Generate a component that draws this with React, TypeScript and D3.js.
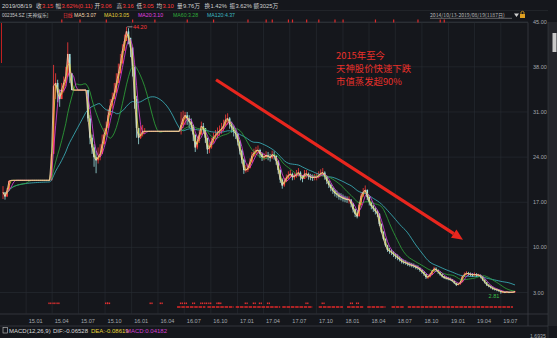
import React from 'react';
import * as d3 from 'd3';

// ---------- data ----------
const startDate = new Date(2014, 9, 13);
const endDate = new Date(2019, 7, 19);

// weekly closes (one value per calendar week starting 2014-10-13)
const closes = [
  18.5, 17.9, 18.8, 20.3, 20.4, 20.4, 20.4, 20.4, 20.4, 20.4,
  20.4, 20.4, 20.4, 20.4, 20.4, 20.4, 20.4, 20.4, 20.4, 20.4,
  20.4, 20.4, 20.4, 20.4, 24.5, 35.0, 35.5, 34.0, 33.0, 34.5,
  35.5, 36.5, 40.0, 37.0, 34.4, 34.4, 34.4, 34.4, 34.4, 34.4,
  34.4, 34.4, 30.0, 27.0, 25.5, 24.0, 23.5, 24.0, 24.5, 26.0,
  27.5, 28.5, 30.5, 32.0, 33.0, 34.0, 35.5, 37.0, 38.5, 40.5,
  42.0, 43.5, 42.5, 41.0, 38.0, 33.0, 28.5, 27.0, 27.5, 28.0,
  28.0, 28.0, 28.0, 28.0, 28.0, 28.0, 28.0, 28.0, 28.0, 28.0,
  28.0, 28.0, 28.0, 28.0, 28.0, 28.0, 28.0, 28.0, 29.0, 30.0,
  30.5, 30.0, 29.5, 29.0, 27.5, 25.5, 26.5, 27.5, 28.8, 28.5,
  27.0, 25.2, 25.5, 26.3, 27.1, 27.4, 27.8, 28.1, 28.4, 28.9,
  29.8, 30.0, 29.1, 28.6, 28.0, 27.6, 26.4, 25.0, 23.6, 22.0,
  22.0, 22.3, 23.2, 24.2, 24.7, 25.0, 25.1, 24.5, 24.0, 24.0,
  24.3, 24.1, 23.9, 24.4, 24.2, 23.4, 22.0, 20.5, 19.6, 20.2,
  20.8, 21.2, 21.4, 20.9, 21.0, 21.4, 21.6, 21.0, 20.6, 21.4,
  21.4, 21.0, 20.9, 20.8, 20.9, 20.9, 21.2, 21.5, 21.6, 21.0,
  20.3, 19.7, 19.2, 18.8, 18.4, 18.2, 17.9, 17.8, 17.6, 17.5,
  17.4, 17.4, 16.8, 15.9, 15.2, 14.8, 16.6, 18.0, 18.6, 18.9,
  17.8, 17.0, 16.4, 16.0, 15.6, 15.2, 13.6, 12.4, 11.3, 10.3,
  9.6, 9.4, 9.2, 8.9, 8.6, 8.4, 8.1, 7.8, 7.7, 7.6,
  7.4, 7.3, 7.2, 7.1, 6.9, 6.8, 6.5, 6.2, 5.9, 5.4,
  5.4, 5.8, 6.3, 6.7, 6.5, 6.2, 5.8, 5.5, 5.3, 5.2,
  5.1, 5.0, 4.8, 4.5, 4.2, 4.3, 4.6, 5.5, 5.8, 6.0,
  5.9, 5.8, 5.7, 5.8, 5.7, 5.7, 5.5, 5.0, 4.6, 4.2,
  4.0, 3.8, 3.6, 3.5, 3.4, 3.3, 3.1, 3.1, 3.0, 3.1,
  3.0, 3.05, 3.05, 3.15,
];

const highs = [
  19.5, 18.6, 19.2, 20.4, 20.4, 20.4, 20.4, 20.4, 20.4, 20.4,
  20.4, 20.4, 20.4, 20.4, 20.4, 20.4, 20.4, 20.4, 20.4, 20.4,
  20.4, 20.4, 20.4, 20.4, 24.7, 38.3, 37.0, 36.0, 34.5, 35.5,
  36.5, 38.0, 41.8, 39.5, 37.0, 34.4, 34.4, 34.4, 34.4, 34.4,
  34.4, 34.4, 34.4, 30.5, 27.5, 26.0, 25.0, 25.5, 26.0, 27.5,
  28.5, 29.5, 31.5, 33.0, 34.0, 35.5, 37.0, 38.5, 40.0, 41.5,
  43.0, 44.2, 44.0, 42.5, 41.0, 38.0, 33.5, 28.5, 28.8, 29.0,
  28.5, 28.0, 28.0, 28.0, 28.0, 28.0, 28.0, 28.0, 28.0, 28.0,
  28.0, 28.0, 28.0, 28.0, 28.0, 28.0, 28.0, 28.0, 31.0, 31.2,
  31.0, 31.0, 30.5, 30.0, 29.0, 27.0, 27.2, 28.3, 29.5, 29.3,
  28.5, 26.8, 26.3, 27.0, 27.8, 28.2, 28.6, 28.9, 29.3, 29.8,
  30.6, 30.8, 30.2, 29.5, 28.9, 28.3, 27.7, 26.6, 25.2, 23.8,
  22.8, 23.0, 23.8, 24.8, 25.3, 25.6, 25.8, 25.3, 24.7, 24.6,
  24.9, 24.8, 24.5, 25.0, 24.9, 24.3, 23.5, 22.1, 20.7, 20.8,
  21.3, 21.8, 22.0, 21.6, 21.5, 22.0, 22.3, 21.8, 21.2, 22.0,
  22.0, 21.6, 21.4, 21.3, 21.4, 21.5, 21.8, 22.1, 22.3, 21.8,
  21.1, 20.4, 19.9, 19.4, 19.0, 18.8, 18.5, 18.4, 18.2, 18.0,
  17.9, 17.9, 17.5, 16.9, 16.0, 15.6, 17.0, 18.5, 19.2, 19.6,
  19.0, 17.9, 17.1, 16.6, 16.2, 15.8, 15.3, 13.7, 12.5, 11.4,
  10.4, 9.9, 9.7, 9.4, 9.1, 8.9, 8.6, 8.3, 8.1, 8.0,
  7.8, 7.7, 7.6, 7.5, 7.3, 7.2, 6.9, 6.6, 6.3, 5.9,
  5.7, 6.0, 6.5, 7.0, 6.9, 6.6, 6.2, 5.9, 5.6, 5.5,
  5.4, 5.3, 5.1, 4.8, 4.5, 4.5, 4.8, 5.6, 6.1, 6.3,
  6.2, 6.1, 6.0, 6.1, 6.0, 5.9, 5.8, 5.5, 5.0, 4.6,
  4.3, 4.1, 3.9, 3.7, 3.6, 3.5, 3.3, 3.25, 3.15, 3.2,
  3.15, 3.15, 3.15, 3.16,
];

const lows = [
  17.5, 17.4, 17.8, 18.8, 20.4, 20.4, 20.4, 20.4, 20.4, 20.4,
  20.4, 20.4, 20.4, 20.4, 20.4, 20.4, 20.4, 20.4, 20.4, 20.4,
  20.4, 20.4, 20.4, 20.4, 20.4, 27.0, 33.0, 32.5, 31.8, 33.0,
  34.0, 35.0, 36.5, 35.5, 34.4, 34.4, 34.4, 34.4, 34.4, 34.4,
  34.4, 34.4, 29.5, 26.0, 24.5, 22.5, 21.5, 23.0, 23.5, 24.5,
  26.0, 27.5, 28.5, 30.5, 31.5, 33.0, 34.0, 35.5, 37.0, 39.0,
  40.5, 42.0, 41.5, 39.5, 36.5, 31.5, 27.0, 26.0, 26.8, 27.2,
  27.6, 28.0, 28.0, 28.0, 28.0, 28.0, 28.0, 28.0, 28.0, 28.0,
  28.0, 28.0, 28.0, 28.0, 28.0, 28.0, 28.0, 28.0, 27.5, 28.5,
  29.0, 29.0, 28.5, 28.0, 26.5, 24.8, 25.2, 26.2, 27.5, 27.6,
  26.2, 24.5, 24.6, 25.3, 26.2, 26.6, 27.0, 27.3, 27.6, 28.0,
  28.7, 29.0, 28.4, 27.8, 27.2, 26.8, 25.8, 24.4, 23.0, 21.4,
  21.6, 21.7, 22.2, 23.1, 24.0, 24.3, 24.4, 23.9, 23.4, 23.5,
  23.7, 23.5, 23.3, 23.7, 23.6, 22.8, 21.4, 20.0, 19.1, 19.4,
  20.1, 20.6, 20.8, 20.4, 20.5, 20.8, 21.0, 20.4, 20.1, 20.6,
  20.8, 20.5, 20.4, 20.3, 20.4, 20.4, 20.7, 21.0, 21.0, 20.5,
  19.8, 19.2, 18.7, 18.3, 17.9, 17.7, 17.4, 17.3, 17.1, 17.0,
  16.9, 16.8, 16.2, 15.4, 14.7, 14.5, 14.9, 16.5, 17.8, 18.2,
  17.3, 16.5, 15.9, 15.5, 15.1, 14.7, 13.3, 12.2, 11.1, 10.1,
  9.3, 9.0, 8.8, 8.5, 8.2, 8.0, 7.8, 7.5, 7.4, 7.3,
  7.1, 7.0, 6.9, 6.8, 6.6, 6.5, 6.2, 5.9, 5.6, 5.1,
  5.1, 5.3, 5.7, 6.2, 6.2, 5.9, 5.6, 5.3, 5.1, 5.0,
  4.9, 4.8, 4.6, 4.3, 4.0, 4.1, 4.2, 4.6, 5.4, 5.7,
  5.6, 5.5, 5.4, 5.5, 5.4, 5.4, 5.2, 4.8, 4.4, 4.0,
  3.8, 3.6, 3.4, 3.3, 3.2, 3.1, 2.81, 2.9, 2.9, 2.9,
  2.9, 2.95, 2.95, 3.05,
];

const priceTicks = [45, 38, 31, 24, 17, 10, 3];
const quarterLabels = [
  '15.01', '15.04', '15.07', '15.10', '16.01', '16.04', '16.07', '16.10',
  '17.01', '17.04', '17.07', '17.10', '18.01', '18.04', '18.07', '18.10',
  '19.01', '19.04', '19.07',
];

const maNames = ['MA5', 'MA10', 'MA20', 'MA60', 'MA120'];
const maDays = [5, 10, 20, 60, 120];
const maLegendValues = ['3.07', '3.05', '3.10', '3.28', '4.37'];

const quoteLabels = ['收', '幅', '开', '高', '低', '均', '量', '换', '振', '额'];
const quoteValues = ['3.15', '3.62%(0.11)', '3.06', '3.16', '3.05', '3.10', '9.76万', '1.42%', '3.62%', '3025万'];
const quoteUp = [true, true, true, true, true, true, false, false, false, false];

const quoteDate = '2019/08/19';
const stockCode = '002354.SZ';
const stockName = '[天神娱乐]';
const periodName = '日线';
const rangeText = '2014/10/13-2019/08/19(1187日)';
const macdItems = ['MACD(12,26,9)', 'DIF:-0.06528', 'DEA:-0.08619', 'MACD:0.04182'];
const macdScaleText = '1.6935';

const annotationLines = ['2015年至今', '天神股价快速下跌', '市值蒸发超90%'];
const arrowFrom: [string, number] = ['2016-10-19', 36.0];
const arrowTo: [string, number] = ['2019-02-20', 11.2];

// marker rows (week indices)
const topFlagWeeks = [29, 38, 51, 64, 75, 91, 104, 121, 130, 133, 141, 143, 150, 156, 164, 168, 184, 193, 205, 216, 218];
const signalWeeks = [23, 25, 27, 51, 52, 73, 78, 88, 90, 94, 98, 100, 102, 106, 107, 120, 124, 127, 131, 150, 158, 172, 175];
const signalRuns = [[86, 100], [101, 114], [115, 137], [138, 153], [156, 168], [170, 178], [180, 189], [192, 198], [200, 252]];

// ---------- styles / layout ----------
const W = 557;
const H = 338;
const BG = '#15171c';
const GRID = '#292d34';
const AXIS_TXT = '#a3a7ad';
const UP = '#ff3b3b';
const DOWN = '#9fe2e2';
const RED_TXT = '#ff3a3a';
const maColors = ['#f2d6ae', '#e6d43a', '#e040e0', '#2faa3a', '#3cb8c2'];
const FONT = '"Liberation Sans", Arial, "Noto Sans CJK SC", sans-serif';
const CJK = '"Noto Sans CJK SC", "Liberation Sans", sans-serif';

const quoteLabelX = [36, 55.5, 94.5, 116.5, 136.5, 156.5, 177, 204.5, 229.5, 253.5];
const maLegendX = [74, 104, 138, 173, 207];
const macdX = [9, 53, 91, 126];
const macdColors = ['#d8d8d8', '#d8d8d8', '#e6d43a', '#d040d0'];

function movingAvg(vals: number[], n: number) {
  return vals.map((_, i) => d3.mean(vals.slice(Math.max(0, i - n + 1), i + 1)) as number);
}

export default function App() {
  const x = d3.scaleTime().domain([startDate, endDate]).range([3, 515]);
  const y = d3.scaleLinear().domain([3, 45]).range([292.5, 21.7]);
  const dates = closes.map((_, i) => d3.timeDay.offset(startDate, i * 7));
  const parseQ = (s: string) => new Date(2000 + +s.slice(0, 2), +s.slice(3) - 1, 1);
  const parseD = d3.timeParse('%Y-%m-%d');

  const mas = maDays.map((d) => movingAvg(closes, Math.max(1, Math.round(d / 5))));
  const line = d3
    .line<number>()
    .x((_, i) => x(dates[i]))
    .y((v) => y(v));

  const hiIdx = d3.maxIndex(highs);
  const loIdx = d3.minIndex(lows);

  const ax = x(parseD(arrowFrom[0]) as Date);
  const ay = y(arrowFrom[1]);
  const bx = x(parseD(arrowTo[0]) as Date);
  const by = y(arrowTo[1]);
  const ang = Math.atan2(by - ay, bx - ax);
  const headLen = 11;
  const headW = 5;
  const baseX = bx - headLen * Math.cos(ang);
  const baseY = by - headLen * Math.sin(ang);
  const nx = -Math.sin(ang);
  const ny = Math.cos(ang);

  return (
    <svg
      width={W}
      height={H}
      style={{ position: 'absolute', left: 0, top: 0, display: 'block' }}
      fontFamily={FONT}
    >
      <rect x={0} y={0} width={W} height={H} fill={BG} />

      {/* header row 1 */}
      <text x={2} y={8.3} fontSize={6} fill="#d0d0d0">{quoteDate}</text>
      {quoteLabels.map((l, i) => (
        <g key={'q' + i}>
          <text x={quoteLabelX[i]} y={8.3} fontSize={5.6} fill="#cfcfcf" fontFamily={CJK}>{l}</text>
          <text x={quoteLabelX[i] + 6} y={8.3} fontSize={5.8} fill={quoteUp[i] ? RED_TXT : '#cfcfcf'}>
            {quoteValues[i]}
          </text>
        </g>
      ))}
      <line x1={0} x2={548} y1={10.5} y2={10.5} stroke="#2a2d33" strokeWidth={0.6} />

      {/* header row 2 */}
      <text x={2} y={17.2} fontSize={4.6} fill="#c8c8c8">{stockCode}</text>
      <text x={26} y={17.2} fontSize={4.8} fill="#c8c8c8" fontFamily={CJK}>{stockName}</text>
      <text x={63} y={17.2} fontSize={4.8} fill={RED_TXT} fontFamily={CJK}>{periodName}</text>
      {maNames.map((n, i) => (
        <text key={'ml' + i} x={maLegendX[i]} y={17.2} fontSize={5.2} fill={maColors[i]}>
          {n}:{maLegendValues[i]}
        </text>
      ))}
      <text x={430} y={17} fontSize={5.1} fill="#b8b8b8" fontFamily={CJK}>{rangeText}</text>
      <line x1={430} x2={512} y1={18.3} y2={18.3} stroke="#b8b8b8" strokeWidth={0.5} />
      <path d="M514,13.5 L519,13.5 L516.5,17 Z" fill="#d0d0d0" />
      <rect x={520} y={14} width={5} height={4} fill="#e0a020" />
      <path d="M521,14 L521,12 Q522.5,10.5 524,12 L524,14" fill="none" stroke="#e0a020" strokeWidth={0.8} />

      {/* plot frame */}
      <line x1={0} x2={528} y1={22.5} y2={22.5} stroke="#34373e" strokeWidth={0.8} />
      <line x1={528} x2={528} y1={22.5} y2={326} stroke="#3a3d44" strokeWidth={0.8} />
      <line x1={0} x2={548} y1={314} y2={314} stroke="#3a3d44" strokeWidth={0.8} />
      <line x1={0} x2={548} y1={326} y2={326} stroke="#3a3d44" strokeWidth={0.8} />

      {/* grid */}
      {priceTicks.map((t) => (
        <line key={'hg' + t} x1={0} x2={528} y1={y(t)} y2={y(t)} stroke={GRID} strokeWidth={0.6} />
      ))}
      {quarterLabels.map((q) => (
        <line key={'vg' + q} x1={x(parseQ(q))} x2={x(parseQ(q))} y1={22.5} y2={314} stroke={GRID} strokeWidth={0.6} />
      ))}

      {/* y axis labels */}
      {priceTicks.map((t) => (
        <text key={'yl' + t} x={533} y={y(t) + 2} fontSize={5.5} fill={AXIS_TXT}>{t.toFixed(2)}</text>
      ))}

      {/* x axis labels */}
      {quarterLabels.map((q) => (
        <text key={'xl' + q} x={x(parseQ(q)) + 2.5} y={323.3} fontSize={5.6} fill={AXIS_TXT}>{q}</text>
      ))}

      {/* top flags */}
      {topFlagWeeks.map((w) => (
        <rect key={'tf' + w} x={x(dates[w]) - 0.5} y={19.5} width={1.2} height={3} fill="#e02a2a" />
      ))}
      <line x1={1.5} x2={1.5} y1={23} y2={63} stroke="#c02020" strokeWidth={1} />

      {/* signal markers */}
      {signalWeeks.map((w) => (
        <g key={'sg' + w}>
          <rect x={x(dates[w]) - 1.2} y={302.5} width={1.3} height={1.6} fill="#e03030" />
          <rect x={x(dates[w]) + 0.6} y={302.5} width={1.3} height={1.6} fill="#e03030" />
        </g>
      ))}
      {signalRuns.map(([a, b], i) => (
        <line
          key={'sr' + i}
          x1={x(dates[a])}
          x2={x(dates[b])}
          y1={307}
          y2={307}
          stroke="#e02828"
          strokeWidth={1.6}
          strokeDasharray="3.5,0.8"
        />
      ))}

      {/* candles */}
      {closes.map((c, i) => {
        const o = i > 0 ? closes[i - 1] : c;
        const up = c >= o;
        const cx = x(dates[i]);
        const col = up ? UP : DOWN;
        const top = y(Math.max(o, c));
        const bot = y(Math.min(o, c));
        return (
          <g key={'k' + i}>
            <line x1={cx} x2={cx} y1={y(highs[i])} y2={y(lows[i])} stroke={col} strokeWidth={0.8} />
            <rect x={cx - 0.8} y={top} width={1.6} height={Math.max(0.6, bot - top)} fill={col} />
          </g>
        );
      })}

      {/* moving averages */}
      {[4, 3, 2, 1, 0].map((k) => (
        <path key={'ma' + k} d={line(mas[k]) as string} fill="none" stroke={maColors[k]} strokeWidth={0.8} />
      ))}

      {/* high / low labels */}
      <line
        x1={x(dates[hiIdx]) + 0.8}
        x2={x(dates[hiIdx]) + 6}
        y1={y(highs[hiIdx])}
        y2={y(highs[hiIdx])}
        stroke="#e8e8e8"
        strokeWidth={0.6}
      />
      <text x={x(dates[hiIdx]) + 6.5} y={y(highs[hiIdx]) + 2} fontSize={5.5} fill={RED_TXT}>
        {highs[hiIdx].toFixed(2)}
      </text>
      <text x={x(dates[loIdx]) - 1.5} y={y(lows[loIdx]) + 4.5} fontSize={5.5} fill="#3cc04a" textAnchor="end">
        {lows[loIdx].toFixed(2)}
      </text>

      {/* arrow annotation */}
      <line x1={ax} y1={ay} x2={baseX} y2={baseY} stroke="#e8261e" strokeWidth={3.2} />
      <polygon
        points={`${bx},${by} ${baseX + nx * headW},${baseY + ny * headW} ${baseX - nx * headW},${baseY - ny * headW}`}
        fill="#e8261e"
      />

      {/* text annotation */}
      {annotationLines.map((t, i) => (
        <text key={'an' + i} x={336} y={59 + i * 12.8} fontSize={9.4} fill="#e8302a" fontFamily={CJK}>
          {t}
        </text>
      ))}

      {/* MACD row */}
      <rect x={3} y={327.5} width={4.5} height={5.5} fill="none" stroke="#c8c8c8" strokeWidth={0.6} />
      {macdItems.map((t, i) => (
        <text key={'md' + i} x={macdX[i]} y={332.8} fontSize={6} fill={macdColors[i]}>{t}</text>
      ))}
      <text x={530} y={337.5} fontSize={5.2} fill={AXIS_TXT}>{macdScaleText}</text>

      {/* right strip / scrollbar */}
      <rect x={548} y={22} width={9} height={304} fill="#23252a" />
      <line x1={548} x2={548} y1={22} y2={338} stroke="#3a3d44" strokeWidth={0.6} />
      <rect x={552.5} y={33} width={4} height={19} fill="#c9c9c9" />
    </svg>
  );
}
